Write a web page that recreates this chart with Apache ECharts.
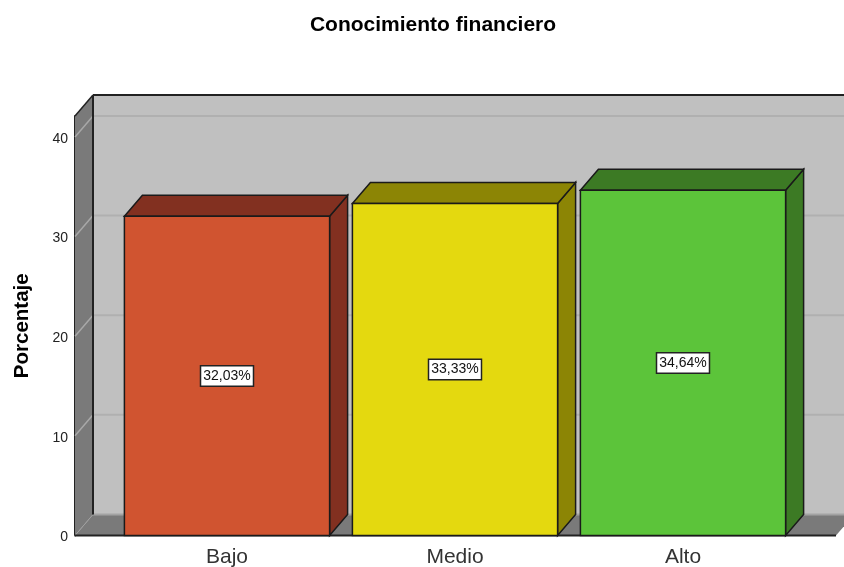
<!DOCTYPE html>
<html>
<head>
<meta charset="utf-8">
<title>Conocimiento financiero</title>
<script src="https://cdn.jsdelivr.net/npm/echarts@6/dist/echarts.min.js"></script>
<style>
  html, body { margin: 0; padding: 0; background: #fff; overflow: hidden; }
  #chart { width: 844px; height: 567px; }
</style>
</head>
<body>
<div id="chart"></div>
<script>
const categories = ['Bajo', 'Medio', 'Alto'];
const percentages = [32.03, 33.33, 34.64];
const labels = ['32,03%', '33,33%', '34,64%'];
const yTicks = [0, 10, 20, 30, 40];
const yTop = 42.1;

const faceColors = ['#d05430', '#e4d90f', '#5cc43a'];
const sideColors = ['#823020', '#8c8505', '#3c7a24'];
const FONT = '"Liberation Sans", Arial, sans-serif';

// depth of the fake 3D box, in pixels
const DX = 18;
const DY = -21;

function poly(points, fill, stroke, lineWidth) {
  return {
    type: 'polygon',
    shape: { points: points },
    style: { fill: fill, stroke: stroke || 'none', lineWidth: lineWidth || 0 }
  };
}

function line(x1, y1, x2, y2, color, width) {
  return {
    type: 'line',
    shape: { x1: x1, y1: y1, x2: x2, y2: y2 },
    style: { stroke: color, lineWidth: width, fill: 'none' }
  };
}

// back wall, left wall, floor and their grid lines
function renderWalls(params, api) {
  const band = api.size([1, 0])[0];
  const left = api.coord([0, 0])[0] - band * 0.5 - 38;
  const right = api.coord([2, 0])[0] + band * 0.5 + 39;
  const bottom = api.coord([0, 0])[1];
  const top = api.coord([0, yTop])[1];

  const children = [
    poly([[left + DX, top + DY], [right + DX, top + DY], [right + DX, bottom + DY], [left + DX, bottom + DY]], '#c0c0c0'),
    poly([[left, top], [left + DX, top + DY], [left + DX, bottom + DY], [left, bottom]], '#7a7a7a'),
    poly([[left, bottom], [left + DX, bottom + DY], [right + DX, bottom + DY], [right, bottom]], '#7a7a7a')
  ];
  yTicks.slice(1).forEach(function (t) {
    const y = api.coord([0, t])[1];
    children.push(line(left, y, left + DX, y + DY, '#a8a8a8', 1.5));
    children.push(line(left + DX, y + DY, right + DX, y + DY, '#b0b0b0', 2));
  });
  children.push(line(left, bottom, left + DX, bottom + DY, '#a0a0a0', 1));
  children.push(line(left + DX, bottom + DY, right + DX, bottom + DY, '#a3a3a3', 2));
  children.push(line(left + DX, top + DY, left + DX, bottom + DY, '#222', 2));
  children.push(line(left, top, left + DX, top + DY, '#222', 1.5));
  children.push(line(left + DX, top + DY, right + DX, top + DY, '#222', 2));
  children.push(line(left, bottom, right, bottom, '#222', 2));
  return { type: 'group', children: children };
}

function renderBar(params, api) {
  const i = api.value(0);
  const top = api.coord([i, api.value(1)]);
  const bottom = api.coord([i, 0])[1];
  const half = api.size([1, 0])[0] * 0.45;
  const x0 = top[0] - half;
  const x1 = top[0] + half;
  const y0 = top[1];
  const edge = '#1a1a1a';
  return {
    type: 'group',
    children: [
      poly([[x1, y0], [x1 + DX, y0 + DY], [x1 + DX, bottom + DY], [x1, bottom]], sideColors[i], edge, 1.5),
      poly([[x0, y0], [x0 + DX, y0 + DY], [x1 + DX, y0 + DY], [x1, y0]], sideColors[i], edge, 1.5),
      poly([[x0, y0], [x1, y0], [x1, bottom], [x0, bottom]], faceColors[i], edge, 1.5),
      {
        type: 'text',
        x: top[0],
        y: (y0 + bottom) / 2,
        style: {
          text: labels[i],
          align: 'center',
          verticalAlign: 'middle',
          fontFamily: FONT,
          fontSize: 14,
          fill: '#111',
          backgroundColor: '#fff',
          borderColor: '#222',
          borderWidth: 1.5,
          padding: [3, 2, 2, 2]
        }
      }
    ]
  };
}

const chart = echarts.init(document.getElementById('chart'));
chart.setOption({
  animation: false,
  backgroundColor: '#fff',
  title: {
    text: 'Conocimiento financiero',
    left: 428,
    top: 10,
    textAlign: 'center',
    textStyle: { fontFamily: FONT, fontSize: 21, fontWeight: 'bold', color: '#000' }
  },
  grid: { left: 113, width: 684, top: 116, bottom: 31.5, outerBoundsMode: 'none' },
  xAxis: {
    type: 'category',
    data: categories,
    axisLine: { show: false },
    axisTick: { show: false },
    axisLabel: { fontFamily: FONT, fontSize: 21, color: '#333', margin: 11 }
  },
  yAxis: {
    type: 'value',
    min: 0,
    max: yTop,
    offset: 38,
    splitLine: { show: false },
    axisLine: { show: true, lineStyle: { color: '#222', width: 2 } },
    axisTick: { show: false },
    axisLabel: {
      customValues: yTicks,
      margin: 7,
      formatter: '{tick|{value}}',
      rich: {
        tick: { fontFamily: FONT, fontSize: 14, color: '#222', padding: [4, 0, 0, 0] }
      }
    },
    name: 'Porcentaje',
    nameLocation: 'middle',
    nameGap: 42,
    nameTextStyle: { fontFamily: FONT, fontSize: 20.5, fontWeight: 'bold', color: '#000' }
  },
  series: [
    {
      type: 'custom',
      z: 1,
      silent: true,
      renderItem: renderWalls,
      data: [[0, 0]]
    },
    {
      type: 'custom',
      z: 2,
      renderItem: renderBar,
      encode: { x: 0, y: 1 },
      data: percentages.map(function (v, i) { return [i, v]; })
    }
  ]
});
</script>
</body>
</html>
